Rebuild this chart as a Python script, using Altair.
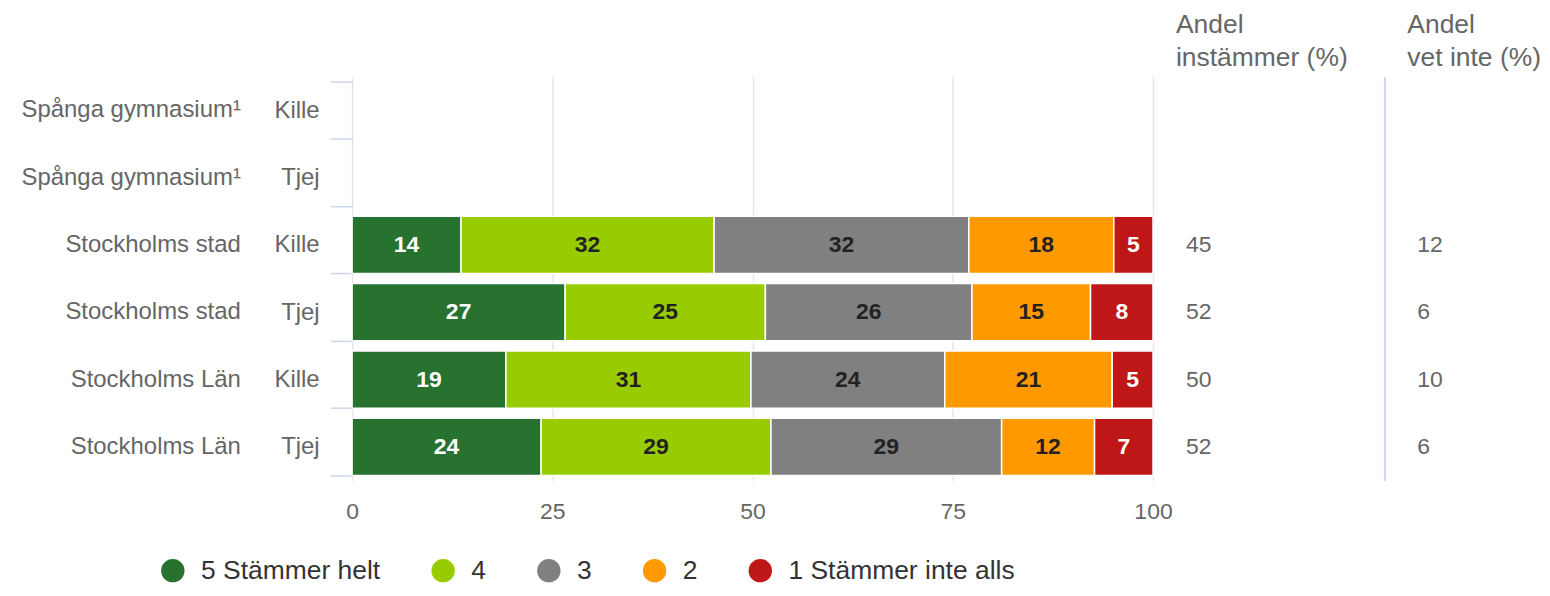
import altair as alt
import pandas as pd

# ---- data ----
groups = ["Spånga gymnasium¹", "Spånga gymnasium¹", "Stockholms stad", "Stockholms stad",
          "Stockholms Län", "Stockholms Län"]
genders = ["Kille", "Tjej", "Kille", "Tjej", "Kille", "Tjej"]
categories = ["5 Stämmer helt", "4", "3", "2", "1 Stämmer inte alls"]
colors = ["#26722e", "#99cc00", "#808080", "#ff9900", "#bf1717"]

# values per row (None = no data)
v5 = [None, None, 13.6, 26.6, 19.2, 23.6]
v4 = [None, None, 31.6, 25.0, 30.6, 28.7]
v3 = [None, None, 31.8, 25.8, 24.2, 28.8]
v2 = [None, None, 18.1, 14.8, 20.9, 11.6]
v1 = [None, None, 4.9, 7.8, 5.1, 7.3]
andel_instammer = [None, None, 45, 52, 50, 52]
andel_vet_inte = [None, None, 12, 6, 10, 6]

FONT = "Liberation Sans"
keys = [f"{g}|{s}" for g, s in zip(groups, genders)]

rows = []
for i, k in enumerate(keys):
    for j, (cat, vals) in enumerate(zip(categories, [v5, v4, v3, v2, v1])):
        if vals[i] is not None:
            rows.append({"key": k, "cat": cat, "order": j, "value": vals[i]})
bars_df = pd.DataFrame(rows)

side_df = pd.DataFrame({"key": keys, "inst": andel_instammer, "vet": andel_vet_inte})

yscale = alt.Scale(domain=keys, paddingInner=0.15, paddingOuter=0.075)
xscale = alt.Scale(domain=[0, 100], nice=False)
H = 405

xaxis = alt.Axis(values=[0, 25, 50, 75, 100], title=None, domain=False, ticks=False,
                 labelPadding=20, labelFlush=False, labelFontSize=23, labelColor="#666",
                 labelFont=FONT, gridColor="#e6e6e6", gridWidth=1.5)

base = alt.Chart(bars_df).transform_stack(
    stack="value", groupby=["key"], sort=[alt.SortField("order")], as_=["x0", "x1"]
).transform_calculate(mid="(datum.x0 + datum.x1) / 2")

bars = base.mark_bar(stroke="white", strokeWidth=1.5).encode(
    x=alt.X("x0:Q", scale=xscale, axis=xaxis),
    x2="x1:Q",
    y=alt.Y("key:N", scale=yscale, sort=keys,
            axis=alt.Axis(orient="left", title=None, labelExpr="split(datum.value, '|')[1]",
                          tickBand="extent", tickSize=22, tickColor="#ccd6eb", tickWidth=1.5,
                          domain=False, labelPadding=11, labelLimit=0,
                          labelFontSize=24, labelColor="#666", labelFont=FONT, grid=False)),
    color=alt.Color("cat:N", scale=alt.Scale(domain=categories, range=colors),
                    legend=alt.Legend(title=None, orient="none", direction="horizontal",
                                      legendX=-193, legendY=482, labelLimit=0,
                                      symbolType="circle", symbolSize=551, symbolStrokeWidth=0,
                                      labelFontSize=26.5, labelColor="#333", labelFont=FONT,
                                      labelOffset=15, columnPadding=49)),
)

labels = base.mark_text(fontSize=23, fontWeight="bold", font=FONT, baseline="middle").encode(
    x=alt.X("mid:Q", scale=xscale, axis=xaxis),
    y=alt.Y("key:N", scale=yscale, sort=keys,
            axis=alt.Axis(orient="left", title=None, labelExpr="split(datum.value, '|')[0]",
                          ticks=False, domain=False, labelPadding=112, grid=False, labelLimit=0,
                          labelFontSize=24, labelColor="#666", labelFont=FONT)),
    text=alt.Text("value:Q", format=".0f"),
    color=alt.condition("datum.order == 0 || datum.order == 4", alt.value("white"), alt.value("#222")),
)

main = alt.layer(bars, labels).resolve_axis(y="independent").properties(width=803, height=H)


def side(field, title, show_domain, width):
    axis = (alt.Axis(title=None, labels=False, ticks=False, grid=False, domain=True,
                     domainColor="#ccd6eb", domainWidth=2) if show_domain else None)
    return alt.Chart(side_df).transform_filter(f"isValid(datum.{field})").mark_text(
        align="left", baseline="middle", fontSize=23, color="#666", font=FONT, dx=33
    ).encode(
        x=alt.value(0),
        y=alt.Y("key:N", scale=yscale, sort=keys, axis=axis),
        text=alt.Text(f"{field}:Q"),
    ).properties(
        width=width, height=H,
        title=alt.TitleParams(text=title, anchor="start", fontSize=26.5, fontWeight="normal",
                              color="#666", font=FONT, dx=23, lineHeight=33, offset=5),
    )


col1 = side("inst", ["Andel", "instämmer (%)"], False, 232)
col2 = side("vet", ["Andel", "vet inte (%)"], True, 150)

chart = alt.hconcat(main, col1, col2, spacing=0, bounds="flush").resolve_scale(
    y="independent"
).configure_view(stroke=None).properties(padding={"left": 12, "top": 3, "right": 0, "bottom": 0})

chart.save("out.html", embed_options={"renderer": "svg", "actions": False})
